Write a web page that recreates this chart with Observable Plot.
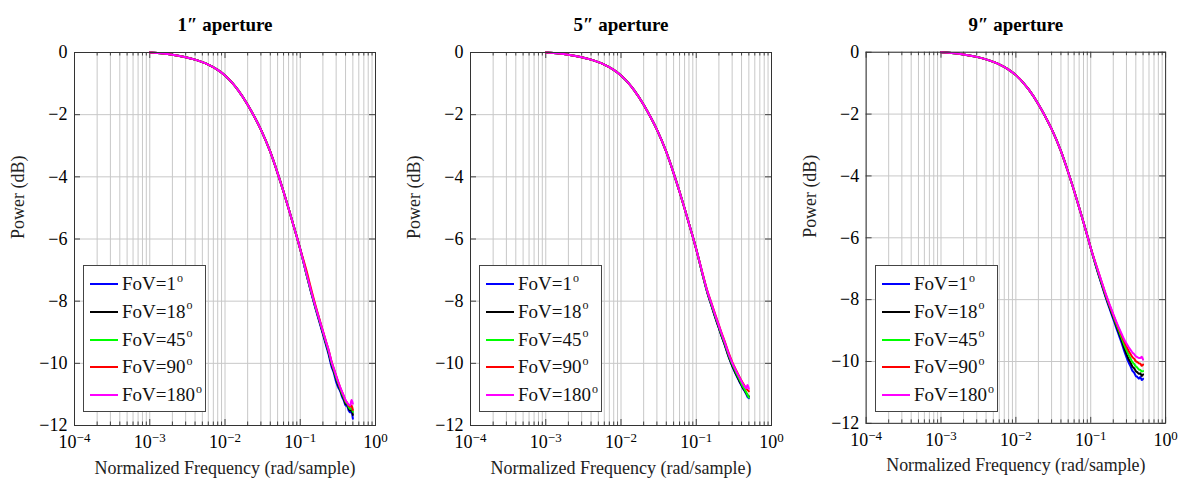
<!DOCTYPE html>
<html>
<head>
<meta charset="utf-8">
<script src="https://cdn.jsdelivr.net/npm/d3@7"></script>
<script src="https://cdn.jsdelivr.net/npm/@observablehq/plot@0.6"></script>
<style>
  body { margin: 0; background: #fff; }
  #wrap { position: relative; width: 1186px; height: 489px; overflow: hidden; font-family: "Liberation Serif", serif; }
  .panel { position: absolute; top: 0; }
  .legend { position: absolute; top: 265px; width: 123px; height: 147px; border: 1px solid #444; background: #fff; box-sizing: border-box; }
  .legend .row { position: absolute; left: 6px; height: 20px; display: flex; align-items: center; font-size: 19px; color: #111; white-space: nowrap; }
  .legend .swatch { width: 28px; height: 2px; margin-right: 4px; flex: none; }
  .legend .deg { font-size: 12px; position: relative; top: -6px; margin-left: 1px; }
</style>
</head>
<body>
<div id="wrap"></div>
<script>
// Panel titles and series
const apertures = ["1\u2033 aperture", "5\u2033 aperture", "9\u2033 aperture"];
const fovLabels = ["1", "18", "45", "90", "180"];
const fovColors = ["#0000ff", "#000000", "#00ff00", "#ff0000", "#ff00ff"];

// Low-frequency part of the response, common to every field of view
const freqHead = [0.001, 0.0015, 0.002, 0.003, 0.004, 0.005, 0.006, 0.008, 0.01, 0.0125, 0.015,
                  0.02, 0.025, 0.03, 0.04, 0.05, 0.06, 0.07, 0.08, 0.09, 0.1];
const dbHead = [0, -0.03, -0.07, -0.15, -0.23, -0.31, -0.39, -0.56, -0.74, -0.98, -1.22,
                -1.68, -2.1, -2.48, -3.2, -3.88, -4.48, -5.02, -5.5, -5.93, -6.33];

// High-frequency part, one row per field of view (1°, 18°, 45°, 90°, 180°)
const freqTail = [0.12, 0.14, 0.16, 0.18, 0.2, 0.22, 0.24, 0.26, 0.28, 0.3,
                  0.32, 0.34, 0.36, 0.38, 0.4, 0.42, 0.44, 0.46, 0.48, 0.5];

const tail1 = [
  [-7.11, -7.74, -8.25, -8.68, -9.06, -9.42, -9.75, -10.1, -10.32, -10.6, -10.78, -10.9, -11.08, -11.2, -11.35, -11.38, -11.52, -11.58, -11.55, -11.78],
  [-7.1, -7.72, -8.22, -8.64, -9.02, -9.36, -9.68, -10.02, -10.26, -10.5, -10.7, -10.86, -11.02, -11.15, -11.3, -11.33, -11.45, -11.52, -11.48, -11.66],
  [-7.09, -7.7, -8.2, -8.61, -8.99, -9.33, -9.64, -9.97, -10.22, -10.45, -10.65, -10.82, -10.98, -11.1, -11.24, -11.3, -11.4, -11.47, -11.44, -11.56],
  [-6.98, -7.62, -8.15, -8.58, -8.96, -9.3, -9.6, -9.93, -10.18, -10.4, -10.6, -10.78, -10.93, -11.06, -11.2, -11.27, -11.35, -11.4, -11.36, -11.5],
  [-7.08, -7.69, -8.19, -8.6, -8.97, -9.3, -9.6, -9.94, -10.18, -10.4, -10.6, -10.77, -10.92, -11.05, -11.18, -11.27, -11.33, -11.36, -11.18, -11.3]
];
const tail5 = [
  [-7.1, -7.72, -8.16, -8.55, -8.87, -9.17, -9.42, -9.68, -9.9, -10.08, -10.24, -10.38, -10.5, -10.62, -10.72, -10.82, -10.9, -10.98, -11.08, -11.12],
  [-7.1, -7.71, -8.15, -8.54, -8.86, -9.16, -9.41, -9.67, -9.89, -10.07, -10.22, -10.36, -10.48, -10.6, -10.7, -10.8, -10.87, -10.95, -11.02, -11.06],
  [-7.09, -7.69, -8.12, -8.5, -8.82, -9.12, -9.37, -9.62, -9.84, -10.02, -10.17, -10.31, -10.43, -10.55, -10.66, -10.76, -10.84, -10.93, -11.02, -11.1],
  [-7.06, -7.66, -8.08, -8.45, -8.77, -9.06, -9.31, -9.56, -9.77, -9.95, -10.1, -10.23, -10.35, -10.46, -10.56, -10.65, -10.73, -10.8, -10.86, -10.9],
  [-7.07, -7.67, -8.09, -8.47, -8.79, -9.08, -9.33, -9.58, -9.8, -9.98, -10.12, -10.25, -10.37, -10.48, -10.58, -10.67, -10.74, -10.8, -10.7, -10.82]
];
const tail9 = [
  [-7.0, -7.52, -7.96, -8.32, -8.63, -8.92, -9.18, -9.42, -9.66, -9.86, -10.03, -10.16, -10.3, -10.36, -10.47, -10.5, -10.56, -10.5, -10.6, -10.56],
  [-6.98, -7.49, -7.92, -8.27, -8.57, -8.85, -9.1, -9.33, -9.56, -9.76, -9.92, -10.04, -10.16, -10.22, -10.31, -10.35, -10.4, -10.38, -10.47, -10.42],
  [-6.96, -7.46, -7.89, -8.23, -8.53, -8.8, -9.03, -9.25, -9.46, -9.63, -9.78, -9.9, -10.02, -10.08, -10.16, -10.2, -10.26, -10.27, -10.32, -10.31],
  [-6.93, -7.43, -7.86, -8.2, -8.49, -8.75, -8.97, -9.17, -9.36, -9.51, -9.65, -9.76, -9.86, -9.91, -9.99, -10.02, -10.06, -10.07, -10.14, -10.1],
  [-6.93, -7.42, -7.84, -8.18, -8.47, -8.72, -8.93, -9.12, -9.29, -9.42, -9.53, -9.62, -9.71, -9.76, -9.83, -9.86, -9.89, -9.89, -9.85, -9.94]
];
const tails = [tail1, tail5, tail9];

// Axis ticks
const xMajor = [1e-4, 1e-3, 1e-2, 1e-1, 1];
const xMinor = [];
for (let e = -4; e < 0; e++) for (let m = 2; m <= 9; m++) xMinor.push(m * Math.pow(10, e));
const yMajor = [-12, -10, -8, -6, -4, -2, 0];

const W = 396, H = 489;
const mL = 74, mR = 21, mT = 52, mB = 64;
const pxPerDecade = (W - mL - mR) / 4;
const pxPerDb = (H - mT - mB) / 12;
const gridColor = "#c8c8c8";

const wrap = document.getElementById("wrap");

apertures.forEach((title, p) => {
  const series = fovLabels.map((fov, s) => {
    const rows = freqHead.map((f, i) => ({f, db: dbHead[i], fov}));
    freqTail.forEach((f, i) => rows.push({f, db: tails[p][s][i], fov}));
    return rows;
  });

  const majLen = 6 / pxPerDb, minLen = 3.5 / pxPerDb;
  const yTickLen = Math.pow(10, 6 / pxPerDecade);

  const chart = Plot.plot({
    width: W, height: H,
    marginLeft: mL, marginRight: mR, marginTop: mT, marginBottom: mB,
    style: {fontFamily: "Liberation Serif, serif", fontSize: "18px", background: "transparent", overflow: "visible"},
    x: {type: "log", domain: [1e-4, 1]},
    y: {domain: [-12, 0]},
    marks: [
      // grid
      Plot.ruleX(xMinor, {x: d => d, stroke: gridColor, strokeWidth: 1}),
      Plot.ruleX(xMajor, {x: d => d, stroke: gridColor, strokeWidth: 1}),
      Plot.ruleY(yMajor, {y: d => d, stroke: gridColor, strokeWidth: 1}),
      // inward ticks on all four sides
      Plot.ruleX(xMinor, {x: d => d, y1: -12, y2: -12 + minLen, stroke: "#444"}),
      Plot.ruleX(xMajor, {x: d => d, y1: -12, y2: -12 + majLen, stroke: "#444"}),
      Plot.ruleX(xMinor, {x: d => d, y1: 0, y2: -minLen, stroke: "#444"}),
      Plot.ruleX(xMajor, {x: d => d, y1: 0, y2: -majLen, stroke: "#444"}),
      Plot.ruleY(yMajor, {y: d => d, x1: 1e-4, x2: 1e-4 * yTickLen, stroke: "#444"}),
      Plot.ruleY(yMajor, {y: d => d, x1: 1, x2: 1 / yTickLen, stroke: "#444"}),
      // response curves, 1° drawn first and 180° on top
      ...series.map((rows, s) => Plot.line(rows, {x: "f", y: "db", stroke: fovColors[s], strokeWidth: 2, strokeLinejoin: "round", curve: "monotone-x"})),
      // axes
      Plot.axisX({ticks: xMajor, tickSize: 0, tickPadding: 10, label: null,
                  tickFormat: d => String(Math.round(Math.log10(d)))}),
      Plot.axisY({ticks: yMajor, tickSize: 0, tickPadding: 7, label: null}),
      Plot.frame({stroke: "#333", strokeWidth: 1}),
      // titles and axis labels
      Plot.text([title], {frameAnchor: "top", dy: -35, fontWeight: "bold", fontSize: 19, text: d => d}),
      Plot.text(["Normalized Frequency (rad/sample)"], {frameAnchor: "bottom", dy: 48, fontSize: 18, text: d => d, fill: "#222"}),
      Plot.text(["Power (dB)"], {frameAnchor: "left", dx: -56, rotate: -90, fontSize: 18, text: d => d, fill: "#222"})
    ]
  });

  // x tick labels as 10 with a raised exponent
  d3.select(chart).selectAll('g[aria-label="x-axis tick label"] text').each(function () {
    const e = +this.textContent.replace("\u2212", "-");
    const t = d3.select(this);
    t.text("10");
    t.append("tspan").attr("dy", "-0.45em").attr("font-size", "0.72em")
      .text(e < 0 ? "\u2212" + Math.abs(e) : String(e));
  });

  const holder = document.createElement("div");
  holder.className = "panel";
  holder.style.left = (p * W) + "px";
  holder.appendChild(chart);
  wrap.appendChild(holder);

  // legend box in the lower-left corner of each panel
  const legend = document.createElement("div");
  legend.className = "legend";
  legend.style.left = (p * W + mL + 9) + "px";
  fovLabels.forEach((fov, s) => {
    const row = document.createElement("div");
    row.className = "row";
    row.style.top = (8 + s * 27.8) + "px";
    row.innerHTML = `<span class="swatch" style="background:${fovColors[s]}"></span>FoV=${fov}<span class="deg">o</span>`;
    legend.appendChild(row);
  });
  wrap.appendChild(legend);
});
</script>
</body>
</html>
